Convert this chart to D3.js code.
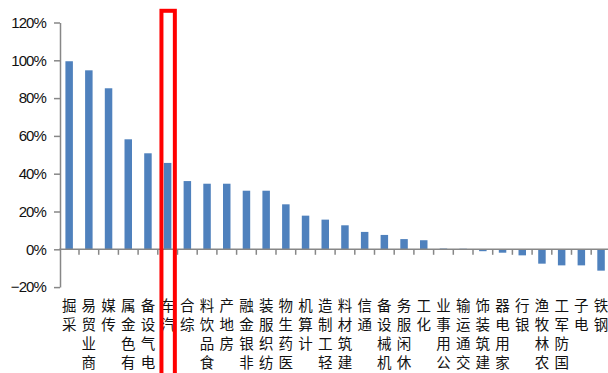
<!DOCTYPE html>
<html>
<head>
<meta charset="utf-8">
<script src="https://cdn.jsdelivr.net/npm/d3@7"></script>
<style>
  html, body { margin: 0; padding: 0; background: #fff; }
  svg { display: block; }
</style>
</head>
<body>
<svg id="chart" width="608" height="373"></svg>
<script>
const categories = ["采掘","商业贸易","传媒","有色金属","电气设备","汽车","综合","食品饮料","房地产","非银金融","纺织服装","医药生物","计算机","轻工制造","建筑材料","通信","机械设备","休闲服务","化工","公用事业","交通运输","建筑装饰","家用电器","银行","农林牧渔","国防军工","电子","钢铁"];
const values = [99.5, 94.7, 85.2, 58.2, 50.8, 45.7, 36.1, 34.7, 34.7, 31.0, 31.0, 23.8, 17.8, 15.7, 12.7, 9.2, 7.6, 5.4, 4.8, 0.4, 0.3, -1.0, -1.8, -3.2, -7.6, -8.5, -8.5, -11.3];
const yTicks = [-20, 0, 20, 40, 60, 80, 100, 120];
const highlighted = ["汽车"];

const svg = d3.select("#chart");
const left = 59.3, step = 19.7;
const x = d3.scaleBand().domain(categories).range([left, left + step * categories.length]).padding(0);
const y = d3.scaleLinear().domain([-20, 120]).range([287.1, 22.5]);
const axisColor = "#878787";

// bars
const barW = x.bandwidth() * 0.38;
svg.append("g").selectAll("rect").data(categories).join("rect")
  .attr("x", d => x(d) + x.bandwidth() / 2 - barW / 2)
  .attr("width", barW)
  .attr("y", (d, i) => y(Math.max(0, values[i])))
  .attr("height", (d, i) => Math.abs(y(values[i]) - y(0)))
  .attr("fill", "#4f81bd");

// y axis
const fmt = d => (d < 0 ? "\u2212" + Math.abs(d) : d) + "%";
const yAxis = svg.append("g").attr("transform", `translate(${left + 0.7},0)`)
  .call(d3.axisLeft(y).tickValues(yTicks).tickFormat(fmt).tickSize(6).tickSizeOuter(0).tickPadding(8));
yAxis.select(".domain").attr("stroke", axisColor).attr("stroke-width", 1.5);
yAxis.selectAll(".tick line").attr("stroke", axisColor).attr("stroke-width", 1.5);
yAxis.selectAll(".tick text")
  .attr("font-family", "'Liberation Sans', Arial, sans-serif")
  .attr("font-size", 15).attr("letter-spacing", -0.9).attr("fill", "#111");

// x axis line
const y0 = y(0);
svg.append("line").attr("x1", left).attr("x2", 608).attr("y1", y0).attr("y2", y0)
  .attr("stroke", axisColor).attr("stroke-width", 1.5);
svg.append("g").selectAll("line").data(categories).join("line")
  .attr("x1", d => x(d) + x.bandwidth()).attr("x2", d => x(d) + x.bandwidth())
  .attr("y1", y0).attr("y2", y0 + 5.5)
  .attr("stroke", axisColor).attr("stroke-width", 1.5);

// category labels: upright characters stacked bottom-to-top, end near axis
const labelTop = 304, charStep = 19.3;
const lg = svg.append("g")
  .attr("font-family", "'Noto Sans CJK SC', sans-serif")
  .attr("font-size", 14.5).attr("fill", "#111");
categories.forEach(c => {
  const chars = Array.from(c);
  const n = chars.length;
  chars.forEach((ch, i) => {
    lg.append("text")
      .attr("x", x(c) + x.bandwidth() / 2)
      .attr("y", labelTop + (n - 1 - i) * charStep)
      .attr("text-anchor", "middle")
      .attr("dominant-baseline", "central")
      .text(ch);
  });
});

// highlight box
highlighted.forEach(c => {
  const cx = x(c) + x.bandwidth() / 2 + 0.5;
  svg.append("rect")
    .attr("x", cx - 6.7).attr("width", 13.4)
    .attr("y", 10.8).attr("height", 400)
    .attr("fill", "none").attr("stroke", "#ff0000").attr("stroke-width", 4);
});
</script>
</body>
</html>
